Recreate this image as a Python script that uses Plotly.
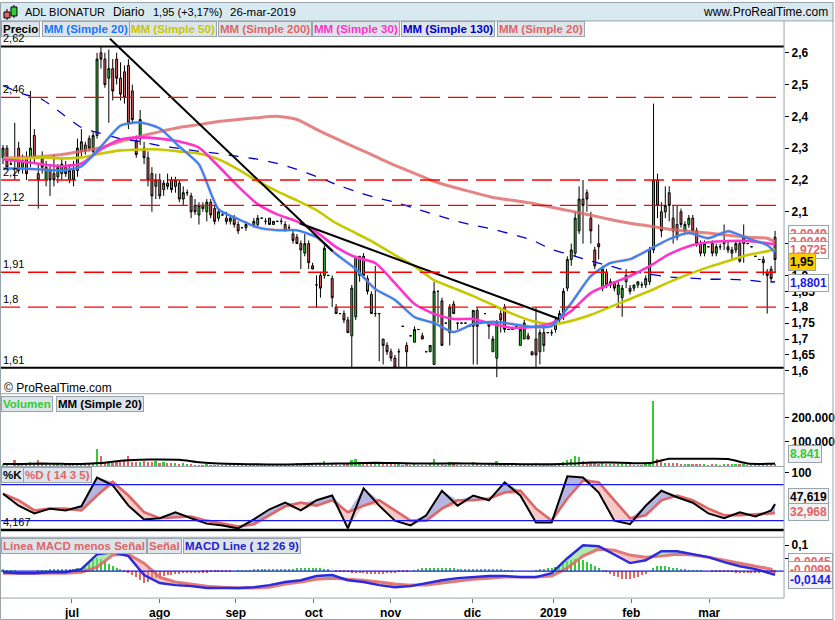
import plotly.graph_objects as go

W, H = 835, 620
PLOT_RIGHT = 785

# ---------------- data ----------------
opens = [2.27,2.30,2.25,2.27,2.30,2.24,2.27,2.27,2.34,2.22,
         2.27,2.20,2.23,2.22,2.21,2.22,2.24,2.20,2.23,2.23,
         2.29,2.31,2.33,2.29,2.34,2.60,2.58,2.52,2.55,2.58,
         2.52,2.54,2.56,2.48,2.32,2.33,2.30,2.27,2.22,2.18,
         2.20,2.17,2.19,2.20,2.18,2.19,2.14,2.16,2.15,2.12,
         2.09,2.12,2.10,2.13,2.11,2.08,2.09,2.08,2.07,
         2.08,2.06,2.05,2.05,2.06,2.06,
         2.06,2.08,2.07,
         2.08,2.06,2.07,2.07,2.06,2.05,2.03,2.02,2.00,
         1.97,2.00,1.93,1.87,1.90,1.90,1.90,1.89,1.80,1.78,
         1.78,1.76,1.71,1.77,1.90,1.96,1.89,1.84,1.78,1.78,
         1.70,1.68,1.66,
         1.64,1.66,1.74,1.68,1.71,1.69,1.73,1.71,
         1.66,1.66,1.62,1.85,1.82,1.75,1.72,1.81,1.75,1.75,1.75,
         1.74,1.74,1.79,1.75,1.78,1.75,1.66,1.64,1.78,1.80,
         1.73,1.73,1.74,1.68,1.70,1.71,1.66,1.70,1.66,1.72,
         1.72,1.72,
         1.73,1.76,1.77,1.86,1.95,1.97,2.04,2.14,2.16,
         2.08,1.98,2.00,1.86,1.91,1.87,1.88,1.84,1.83,1.88,
         1.86,1.86,1.87,1.87,1.87,1.88,1.98,2.20,2.10,2.10,
         2.16,2.08,2.06,2.10,2.04,2.06,2.08,2.04,2.00,1.97,
         1.99,2.00,1.97,1.99,2.00,1.99,1.97,1.98,2.00,2.00,
         2.00,1.99,1.96,1.95,1.95,1.91,1.92,2.02]
highs = [2.31,2.31,2.26,2.38,2.32,2.28,2.29,2.48,2.36,2.25,
         2.29,2.26,2.25,2.28,2.25,2.27,2.26,2.25,2.26,2.33,
         2.36,2.32,2.34,2.35,2.60,2.62,2.60,2.61,2.58,2.60,
         2.57,2.56,2.58,2.50,2.34,2.42,2.32,2.29,2.24,2.22,
         2.22,2.20,2.22,2.21,2.21,2.20,2.18,2.17,2.16,2.14,
         2.13,2.13,2.14,2.14,2.12,2.11,2.10,2.10,2.09,
         2.09,2.07,2.05,2.07,2.06,2.08,
         2.09,2.08,2.08,
         2.08,2.07,2.07,2.08,2.07,2.06,2.04,2.03,2.01,
         2.03,2.01,1.94,1.90,1.91,2.00,1.90,1.90,1.81,1.78,
         1.79,1.77,1.87,1.96,1.96,1.97,1.90,1.85,1.93,1.78,
         1.70,1.69,1.67,
         1.65,1.67,1.74,1.69,1.71,1.74,1.73,1.72,
         1.66,1.68,1.88,1.85,1.83,1.75,1.81,1.82,1.75,1.75,1.75,
         1.74,1.79,1.80,1.75,1.78,1.75,1.71,1.76,1.79,1.81,
         1.73,1.73,1.74,1.74,1.76,1.72,1.66,1.80,1.73,1.74,
         1.72,1.73,
         1.77,1.79,1.86,1.96,2.00,2.10,2.18,2.20,2.17,
         2.10,1.99,2.06,1.93,1.92,1.89,1.88,1.88,1.87,1.92,
         1.87,1.87,1.88,1.88,1.90,1.99,2.44,2.22,2.13,2.18,
         2.18,2.12,2.12,2.11,2.07,2.09,2.09,2.05,2.01,2.01,
         1.99,2.01,2.00,2.00,2.06,2.01,1.99,2.01,2.01,2.06,
         2.00,1.99,1.96,1.95,1.96,1.92,1.93,2.04]
lows = [2.25,2.23,2.25,2.20,2.22,2.22,2.20,2.24,2.25,2.11,
        2.22,2.18,2.15,2.18,2.19,2.20,2.21,2.19,2.18,2.21,
        2.27,2.28,2.29,2.28,2.33,2.55,2.49,2.38,2.45,2.50,
        2.45,2.44,2.36,2.38,2.27,2.31,2.25,2.18,2.10,2.14,
        2.14,2.15,2.17,2.16,2.16,2.13,2.12,2.15,2.08,2.09,
        2.06,2.10,2.07,2.08,2.06,2.07,2.09,2.06,2.06,
        2.05,2.03,2.05,2.04,2.06,2.05,
        2.05,2.08,2.06,
        2.06,2.06,2.07,2.06,2.04,2.04,2.00,2.00,1.92,
        1.96,1.92,1.92,1.80,1.83,1.89,1.90,1.80,1.78,1.78,
        1.75,1.72,1.61,1.76,1.88,1.89,1.84,1.78,1.77,1.63,
        1.62,1.65,1.63,
        1.61,1.61,1.74,1.61,1.71,1.69,1.73,1.70,
        1.66,1.66,1.62,1.75,1.68,1.75,1.68,1.78,1.73,1.75,1.75,
        1.74,1.62,1.62,1.75,1.78,1.70,1.66,1.58,1.72,1.72,
        1.73,1.73,1.74,1.68,1.70,1.70,1.65,1.61,1.62,1.66,
        1.72,1.71,
        1.72,1.75,1.76,1.85,1.93,1.96,2.03,2.00,2.10,
        2.00,1.92,1.95,1.85,1.86,1.86,1.85,1.80,1.77,1.86,
        1.84,1.85,1.86,1.86,1.86,1.87,1.97,2.08,2.02,2.08,
        2.07,2.00,2.01,2.05,2.03,2.05,2.03,1.99,1.96,1.96,
        1.99,1.96,1.96,1.98,1.98,1.97,1.95,1.97,1.94,1.94,
        2.00,1.99,1.96,1.95,1.90,1.78,1.88,1.91]
closes = [2.30,2.24,2.25,2.26,2.23,2.26,2.22,2.30,2.27,2.20,
          2.24,2.24,2.20,2.20,2.24,2.25,2.22,2.23,2.20,2.30,
          2.32,2.29,2.30,2.34,2.58,2.58,2.50,2.55,2.48,2.52,
          2.47,2.46,2.38,2.39,2.28,2.39,2.27,2.20,2.15,2.20,
          2.15,2.19,2.18,2.17,2.20,2.14,2.16,2.16,2.10,2.10,
          2.12,2.11,2.13,2.09,2.07,2.10,2.09,2.07,2.08,
          2.06,2.04,2.05,2.06,2.06,2.07,
          2.08,2.08,2.07,
          2.06,2.07,2.07,2.07,2.04,2.05,2.01,2.00,1.98,
          2.00,1.94,1.92,1.87,1.86,1.985,1.90,1.83,1.78,1.78,
          1.76,1.72,1.86,1.96,1.96,1.90,1.85,1.78,1.78,1.78,
          1.68,1.66,1.64,
          1.61,1.66,1.74,1.66,1.71,1.73,1.73,1.70,
          1.66,1.68,1.85,1.85,1.68,1.75,1.80,1.78,1.75,1.75,1.75,
          1.74,1.79,1.74,1.75,1.78,1.74,1.70,1.75,1.76,1.73,
          1.73,1.73,1.74,1.73,1.75,1.70,1.65,1.65,1.72,1.68,
          1.72,1.72,
          1.76,1.78,1.85,1.95,1.98,2.08,2.14,2.12,2.14,
          2.04,1.93,1.99,1.92,1.87,1.88,1.86,1.87,1.86,1.90,
          1.85,1.87,1.88,1.87,1.89,1.98,2.20,2.12,2.04,2.12,
          2.12,2.04,2.02,2.06,2.06,2.08,2.04,2.00,1.97,2.00,
          1.99,1.97,1.99,1.99,2.01,1.98,1.98,2.00,1.945,2.02,
          2.00,1.99,1.96,1.95,1.94,1.90,1.89,1.95]

# volume (thousands of shares)
volumes = [4,3,0,25,5,3,4,15,4,25, 5,4,3,6,4,3,5,4,6,8,
           5,4,6,10,70,40,14,18,12,14, 16,20,40,14,15,16,18,15,14,22,
           12,14,10,12,10,8,10,5,4,3, 3,2,4,3,2,3,2,1,8,
           8,6,2,3,2,3, 2,1,2,
           2,1,2,1,3,8,6,10,8,
           6,8,4,6,10,20,2,10,8,2, 6,10,25,30,15,10,8,12,4,6,
           8,4,5,
           6,5,1,6,1,5,1,3,
           1,4,30,5,12,1,15,6,2,1,1,
           1,15,10,1,1,4,8,20,6,8, 1,1,1,6,8,3,3,10,6,4,
           1,2,
           5,6,15,25,30,40,35,20,15,
           15,12,8,10,6,4,5,6,8,6, 4,2,3,2,5,15,270,30,15,12,
           12,10,10,8,6,6,8,6,5,4, 1,4,4,1,6,4,4,4,6,8,
           1,1,1,1,4,8,6,9]

# MACD minus signal histogram (thousandths)
macd_hist = [4,3,2,1,0,0,0,0,0,1, 2,3,4,4,4,4,4,6,8,10,
             12,18,30,42,50,45,38,28,18,10, 4,-2,-7,-15,-25,-36,-46,-42,-35,-28,
             -23,-20,-17,-14,-12,-11,-10,-9,-8,-8, -8,-7,-7,-6,-5,-4,-3,-2,-1,
             0,1,2,2,3,4, 6,8,8,
             8,8,8,7,7,7,8,10,11,
             12,12,12,12,12,8,4,0,-4,-5, -6,-6,-7,-8,-9,-10,-12,-12,-12,-12,
             -12,-10,-9,
             -8,-6,-4,-2,0,3,8,10,
             11,11,11,11,11,11,11,10,9,8,8,
             8,8,8,8,8,7,6,5,4,3, 2,1,0,0,0,0,0,2,4,7,
             11,13,
             15,22,30,38,42,44,43,42,35,
             25,18,11,2,-6,-12,-19,-25,-30,-31, -31,-28,-22,-17,-12,0,10,19,19,17,
             15,13,12,8,5,3,3,2,1,0, 0,-1,-2,-3,-4,-5,-6,-7,-8,-8,
             -8,-8,-7,-7,-6,-6,-5,-4.5]

# moving averages, read every 5 sessions
ma20 = [2.236,2.236,2.233,2.230,2.243,2.305,2.371,2.381,2.362,2.305,
        2.249,2.108,2.077,2.051,2.042,2.042,2.020,1.967,1.920,1.857,
        1.823,1.769,1.750,1.722,1.747,1.754,1.747,1.738,1.741,1.813,
        1.898,1.939,1.951,1.982,2.014,2.033,2.017,2.039,2.017,1.995,1.9725]
ma50 = [2.268,2.268,2.271,2.268,2.271,2.283,2.293,2.296,2.296,2.290,
        2.283,2.265,2.233,2.196,2.164,2.136,2.105,2.064,2.033,2.001,
        1.964,1.929,1.885,1.860,1.835,1.807,1.779,1.757,1.747,1.757,
        1.776,1.801,1.826,1.851,1.879,1.904,1.926,1.945,1.964,1.976,1.982]
ma30 = [2.265,2.258,2.249,2.243,2.252,2.296,2.327,2.334,2.330,2.321,
        2.302,2.243,2.180,2.124,2.092,2.070,2.036,1.989,1.957,1.939,
        1.876,1.810,1.779,1.763,1.763,1.747,1.735,1.738,1.750,1.788,
        1.845,1.873,1.898,1.929,1.967,1.992,2.004,2.008,2.008,2.001,1.998]
ma200 = [2.268,2.271,2.274,2.280,2.290,2.302,2.321,2.337,2.352,2.365,
         2.374,2.384,2.390,2.396,2.400,2.390,2.359,2.330,2.302,2.274,
         2.246,2.221,2.196,2.177,2.161,2.145,2.136,2.127,2.114,2.102,
         2.089,2.076,2.064,2.055,2.045,2.039,2.033,2.026,2.020,2.017,2.0049]
ma130 = [2.497,2.471,2.453,2.409,2.365,2.346,2.330,2.321,2.308,2.299,
         2.290,2.283,2.274,2.265,2.252,2.233,2.211,2.186,2.164,2.145,
         2.130,2.111,2.092,2.073,2.058,2.045,2.029,2.011,1.982,1.964,
         1.945,1.929,1.913,1.904,1.895,1.892,1.888,1.888,1.885,1.879,1.8801]
vol_ma = [6,6,8,7,6,10,20,24,25,24,14,8,6,5,4,5,7,8,9,11,
          10,8,8,9,8,7,6,5,5,8,12,12,10,10,28,28,28,27,8,7,8.841]

# stochastic and MACD lines, read every 4 sessions
stoch_k = [65,45,32,40,37,44,92,79,45,22,24,34,24,15,12,7,22,39,50,37,
           54,62,7,74,45,20,12,29,70,45,62,54,84,62,17,17,94,92,67,20,
           14,45,70,59,50,32,24,34,27,37,47.619]
stoch_d = [65,54,37,40,40,37,62,85,62,34,24,25,27,20,15,10,14,29,44,50,
           45,54,34,45,54,37,20,20,40,54,54,57,67,70,40,20,57,87,84,54,
           24,29,54,62,54,40,29,29,30,32,32.968]
macd_line = [-0.004,-0.008,-0.008,-0.004,-0.004,0.008,0.065,0.073,0.058,-0.015,
             -0.046,-0.054,-0.058,-0.065,-0.065,-0.065,-0.062,-0.054,-0.042,-0.035,
             -0.019,-0.015,-0.035,-0.042,-0.054,-0.062,-0.058,-0.046,-0.035,-0.027,
             -0.023,-0.019,-0.019,-0.023,-0.023,-0.008,0.05,0.1,0.096,0.062,
             0.031,0.042,0.077,0.077,0.065,0.054,0.035,0.019,0.008,-0.012,-0.0144]
macd_signal = [-0.008,-0.008,-0.008,-0.008,-0.008,-0.004,0.015,0.062,0.065,0.031,
               -0.023,-0.042,-0.05,-0.058,-0.062,-0.065,-0.065,-0.062,-0.05,-0.042,
               -0.031,-0.027,-0.031,-0.035,-0.042,-0.05,-0.054,-0.054,-0.046,-0.038,
               -0.031,-0.027,-0.023,-0.023,-0.023,-0.019,0.012,0.058,0.085,0.081,
               0.062,0.054,0.058,0.065,0.062,0.054,0.042,0.031,0.019,0.008,-0.0099]

# trend lines (session index, price)
trend1_x, trend1_y = [27.3, 84.1], [2.644, 1.976]
trend2_x, trend2_y = [75.7, 141.9], [2.064, 1.763]

# horizontal levels
levels_solid = [2.62, 1.61]
levels_dash = [2.46, 2.2, 2.12, 1.91, 1.8]

month_pos = [17.6, 40.0, 59.4, 79.3, 98.9, 119.8, 140.4, 160.3, 180.2]
month_lbl = ["jul", "ago", "sep", "oct", "nov", "dic", "2019", "feb", "mar"]

price_ticks = [1.6, 1.65, 1.7, 1.75, 1.8, 1.85, 1.9, 2.0, 2.1, 2.2, 2.3, 2.4, 2.5, 2.6]

# ---------------- helpers ----------------
N = len(closes)
idx = list(range(N))
ma_x = list(range(0, N - 2, 5)) + [N - 1]
ind_x = list(range(0, N - 1, 4)) + [N - 1]

GREEN = "#33cc33"
RED = "#e06666"
FONT = "Liberation Sans, Arial, sans-serif"


def py2p(py):
    return 1 - py / H


def px2p(px):
    return px / W


def comma(v):
    return str(v).replace(".", ",")


fig = go.Figure()

# ---- main price panel ----
for xs, ys, col, wd, dash, op in [
    (ma_x, ma200, RED, 3.0, None, 0.8),
    (ma_x, ma130, "#0000cc", 1.3, "10px,10px", 1),
    (ma_x, ma50, "#c8c800", 2.6, None, 1),
    (ma_x, ma30, "#ff33cc", 2.6, None, 1),
    (ma_x, ma20, RED, 3.2, None, 0.45),
    (ma_x, ma20, "#2a85ff", 2.0, None, 1),
]:
    fig.add_trace(go.Scatter(x=xs, y=ys, mode="lines", yaxis="y",
                             line=dict(color=col, width=wd, dash=dash, shape="spline", smoothing=0.6),
                             opacity=op, hoverinfo="skip"))

fig.add_trace(go.Candlestick(x=idx, open=opens, high=highs, low=lows, close=closes, yaxis="y",
                             increasing=dict(fillcolor=GREEN, line=dict(color="black", width=1)),
                             decreasing=dict(fillcolor=RED, line=dict(color="black", width=1)),
                             whiskerwidth=0, hoverinfo="skip"))

for tx, ty in [(trend1_x, trend1_y), (trend2_x, trend2_y)]:
    fig.add_trace(go.Scatter(x=tx, y=ty, mode="lines", yaxis="y",
                             line=dict(color="black", width=2), hoverinfo="skip"))

# ---- volume panel ----
vol_colors = [GREEN if c >= o else RED for o, c in zip(opens, closes)]
fig.add_trace(go.Bar(x=idx, y=[v * 1000 for v in volumes], yaxis="y2", width=0.45,
                     marker=dict(color=vol_colors, line=dict(width=0)), hoverinfo="skip"))
fig.add_trace(go.Scatter(x=ma_x, y=[v * 1000 for v in vol_ma], yaxis="y2", mode="lines",
                         line=dict(color="black", width=2, shape="spline", smoothing=0.5), hoverinfo="skip"))

# ---- stochastic panel ----
k_hi = [max(k, d) for k, d in zip(stoch_k, stoch_d)]
k_lo = [min(k, d) for k, d in zip(stoch_k, stoch_d)]
fig.add_trace(go.Scatter(x=ind_x, y=stoch_d, yaxis="y3", mode="lines", line=dict(width=0),
                         hoverinfo="skip"))
fig.add_trace(go.Scatter(x=ind_x, y=k_hi, yaxis="y3", mode="lines", line=dict(width=0),
                         fill="tonexty", fillcolor="rgba(120,120,200,0.55)", hoverinfo="skip"))
fig.add_trace(go.Scatter(x=ind_x, y=stoch_d, yaxis="y3", mode="lines", line=dict(width=0),
                         hoverinfo="skip"))
fig.add_trace(go.Scatter(x=ind_x, y=k_lo, yaxis="y3", mode="lines", line=dict(width=0),
                         fill="tonexty", fillcolor="rgba(240,150,150,0.5)", hoverinfo="skip"))
fig.add_trace(go.Scatter(x=ind_x, y=stoch_d, yaxis="y3", mode="lines",
                         line=dict(color=RED, width=2.6), hoverinfo="skip"))
fig.add_trace(go.Scatter(x=ind_x, y=stoch_k, yaxis="y3", mode="lines",
                         line=dict(color="black", width=2), hoverinfo="skip"))

# ---- MACD panel ----
m_hi = [max(m, s) for m, s in zip(macd_line, macd_signal)]
m_lo = [min(m, s) for m, s in zip(macd_line, macd_signal)]
fig.add_trace(go.Scatter(x=ind_x, y=macd_signal, yaxis="y4", mode="lines", line=dict(width=0),
                         hoverinfo="skip"))
fig.add_trace(go.Scatter(x=ind_x, y=m_hi, yaxis="y4", mode="lines", line=dict(width=0),
                         fill="tonexty", fillcolor="rgba(120,220,120,0.6)", hoverinfo="skip"))
fig.add_trace(go.Scatter(x=ind_x, y=macd_signal, yaxis="y4", mode="lines", line=dict(width=0),
                         hoverinfo="skip"))
fig.add_trace(go.Scatter(x=ind_x, y=m_lo, yaxis="y4", mode="lines", line=dict(width=0),
                         fill="tonexty", fillcolor="rgba(240,150,150,0.55)", hoverinfo="skip"))
hist_colors = [GREEN if h >= 0 else RED for h in macd_hist]
fig.add_trace(go.Bar(x=idx, y=[h / 1000 for h in macd_hist], yaxis="y4", width=0.3,
                     marker=dict(color=hist_colors, line=dict(width=0)), hoverinfo="skip"))
fig.add_trace(go.Scatter(x=ind_x, y=macd_signal, yaxis="y4", mode="lines",
                         line=dict(color=RED, width=3), opacity=0.85, hoverinfo="skip"))
fig.add_trace(go.Scatter(x=ind_x, y=macd_line, yaxis="y4", mode="lines",
                         line=dict(color="#2a2ae0", width=2.4), hoverinfo="skip"))

# ---------------- shapes ----------------
shapes = []
GRAY = "#9aa4ad"
xr = px2p(PLOT_RIGHT)
shapes.append(dict(type="rect", xref="paper", yref="paper", x0=0, x1=1, y0=py2p(19), y1=1,
                   fillcolor="#d8e9f0", line=dict(width=0), layer="below"))
for lv in levels_solid:
    shapes.append(dict(type="line", xref="paper", yref="y", x0=0, x1=xr, y0=lv, y1=lv,
                       line=dict(color="black", width=2)))
for lv in levels_dash:
    shapes.append(dict(type="line", xref="paper", yref="y", x0=0, x1=xr, y0=lv, y1=lv,
                       line=dict(color="#ff0000", width=1.3, dash="20px,8px")))
shapes.append(dict(type="line", xref="paper", yref="y3", x0=0, x1=xr, y0=80, y1=80,
                   line=dict(color="#1a1aee", width=1.2)))
shapes.append(dict(type="line", xref="paper", yref="y3", x0=0, x1=xr, y0=20, y1=20,
                   line=dict(color="#1a1aee", width=1.2)))
shapes.append(dict(type="line", xref="paper", yref="y3", x0=0, x1=xr, y0=4.167, y1=4.167,
                   line=dict(color="black", width=2.5)))
shapes.append(dict(type="line", xref="paper", yref="y4", x0=0, x1=xr, y0=0, y1=0,
                   line=dict(color="#1a1aee", width=1.4)))
for py in [19, 393, 466, 537, 598]:
    shapes.append(dict(type="line", xref="paper", yref="paper", x0=0, x1=1 if py == 19 else xr,
                       y0=py2p(py), y1=py2p(py), line=dict(color=GRAY, width=1)))
shapes.append(dict(type="line", xref="paper", yref="paper", x0=xr, x1=xr, y0=py2p(598), y1=py2p(19),
                   line=dict(color=GRAY, width=1)))
shapes.append(dict(type="rect", xref="paper", yref="paper", x0=0.0006, x1=0.9988, y0=0.0008, y1=0.9992,
                   line=dict(color=GRAY, width=1)))
# header icon
shapes.append(dict(type="line", xref="paper", yref="paper", x0=px2p(7), x1=px2p(7), y0=py2p(18), y1=py2p(7),
                   line=dict(color="black", width=1)))
shapes.append(dict(type="rect", xref="paper", yref="paper", x0=px2p(4), x1=px2p(10), y0=py2p(16), y1=py2p(10),
                   fillcolor=RED, line=dict(color="black", width=1)))
shapes.append(dict(type="line", xref="paper", yref="paper", x0=px2p(14), x1=px2p(14), y0=py2p(16), y1=py2p(3),
                   line=dict(color="black", width=1)))
shapes.append(dict(type="rect", xref="paper", yref="paper", x0=px2p(11), x1=px2p(17), y0=py2p(14), y1=py2p(5),
                   fillcolor=GREEN, line=dict(color="black", width=1)))

# ---------------- annotations ----------------
ann = []


def text(x, y, s, size=12, color="black", bold=False, xanchor="left", yanchor="middle",
         bg=None, border=None, xref="paper", yref="paper"):
    d = dict(x=x, y=y, xref=xref, yref=yref, text=s, showarrow=False, xanchor=xanchor, yanchor=yanchor,
             font=dict(family=FONT, size=size, color=color, weight="bold" if bold else "normal"))
    if bg:
        d["bgcolor"] = bg
    if border:
        d.update(bordercolor=border, borderwidth=1, borderpad=1)
    return d


ann.append(text(px2p(23), py2p(10), "ADL BIONATUR", 11))
ann.append(text(px2p(111), py2p(10), "Diario", 12))
ann.append(text(px2p(151), py2p(10), "1,95 (+3,17%)", 11))
ann.append(text(px2p(228), py2p(10), "26-mar-2019", 11.5))
ann.append(text(px2p(831), py2p(10), "www.ProRealTime.com", 12, xanchor="right"))

LBG = "#dde4ea"
legend_main = [(1, "Precio", "black"), (42, "MM (Simple 20)", "#1a75ff"),
               (129, "MM (Simple 50)", "#c8c800"), (218, "MM (Simple 200)", RED),
               (312, "MM (Simple 30)", "#ff33cc"), (401, "MM (Simple 130)", "#0000cc"),
               (498, "MM (Simple 20)", RED)]
for x0, s, c in legend_main:
    ann.append(text(px2p(x0), py2p(27), s, 11.5, c, True, bg=LBG, border=GRAY))
ann.append(text(px2p(1), py2p(403), "Volumen", 11.5, GREEN, True, bg=LBG, border=GRAY))
ann.append(text(px2p(56), py2p(403), "MM (Simple 20)", 11.5, "black", True, bg=LBG, border=GRAY))
ann.append(text(px2p(1), py2p(475), "%K", 11.5, "black", True, bg=LBG, border=GRAY))
ann.append(text(px2p(23), py2p(475), "%D ( 14 3 5)", 11.5, RED, True, bg=LBG, border=GRAY))
ann.append(text(px2p(1), py2p(546), "Línea MACD menos Señal", 11.5, RED, True, bg=LBG, border=GRAY))
ann.append(text(px2p(147), py2p(546), "Señal", 11.5, RED, True, bg=LBG, border=GRAY))
ann.append(text(px2p(183), py2p(546), "MACD Line ( 12 26 9)", 11.5, "#2222cc", True, bg=LBG, border=GRAY))

for lv in levels_solid + levels_dash:
    ann.append(text(px2p(1), lv, comma(lv), 11, yanchor="bottom", yref="y"))
ann.append(text(px2p(1), 4.167, "4,167", 11, yanchor="bottom", yref="y3"))
ann.append(text(px2p(2), py2p(387), "© ProRealTime.com", 12))

# right-hand value boxes
right_boxes = [(233, "2,0049", RED, "white"), (241, "2,0049", RED, "white"),
               (249, "1,9725", RED, "white"), (261, "1,95", "black", "#ffcc00"),
               (282, "1,8801", "#1a1aee", "white"),
               (453, "8.841", GREEN, "#eef0f2"),
               (497, "47,619", "black", "#f2f2f2"), (512, "32,968", RED, "#f2f2f2"),
               (562, "-0,0045", RED, "white"), (570, "-0,0099", RED, "white"),
               (580, "-0,0144", "#1a1aee", "#f2f2f2")]
for py, s, c, bg in right_boxes:
    ann.append(text(px2p(789), py2p(py), s, 12, c, True, bg=bg, border=GRAY))

axis_font = dict(family=FONT, size=12, color="black", weight="bold")
common_y = dict(side="right", anchor="x", showgrid=False, zeroline=False, showline=False,
                ticks="outside", ticklen=4, tickcolor="black", tickfont=axis_font)

fig.update_layout(
    width=W, height=H, margin=dict(l=0, r=0, t=0, b=0),
    paper_bgcolor="white", plot_bgcolor="white", showlegend=False,
    bargap=0, hovermode=False,
    xaxis=dict(domain=[0, xr], range=[-0.765, 199.3], anchor="y4", showgrid=False, zeroline=False,
               showline=False, tickvals=month_pos, ticktext=month_lbl, ticks="outside", ticklen=4,
               tickcolor="#777777", tickfont=axis_font, rangeslider=dict(visible=False)),
    yaxis=dict(domain=[py2p(393), py2p(19)], range=[1.528, 2.700], tickvals=price_ticks,
               ticktext=[comma(t) for t in price_ticks], **common_y),
    yaxis2=dict(domain=[py2p(466), py2p(394)], range=[-4200, 296000], tickvals=[100000, 200000],
                ticktext=["100.000", "200.000"], **common_y),
    yaxis3=dict(domain=[py2p(537), py2p(467)], range=[-7.8, 108.8], tickvals=[100], ticktext=["100"],
                **common_y),
    yaxis4=dict(domain=[py2p(598), py2p(538)], range=[-0.104, 0.127], tickvals=[0.05, 0.1],
                ticktext=["0,05", "0,1"], **common_y),
    shapes=shapes, annotations=ann,
)

fig.write_html("out.html")
